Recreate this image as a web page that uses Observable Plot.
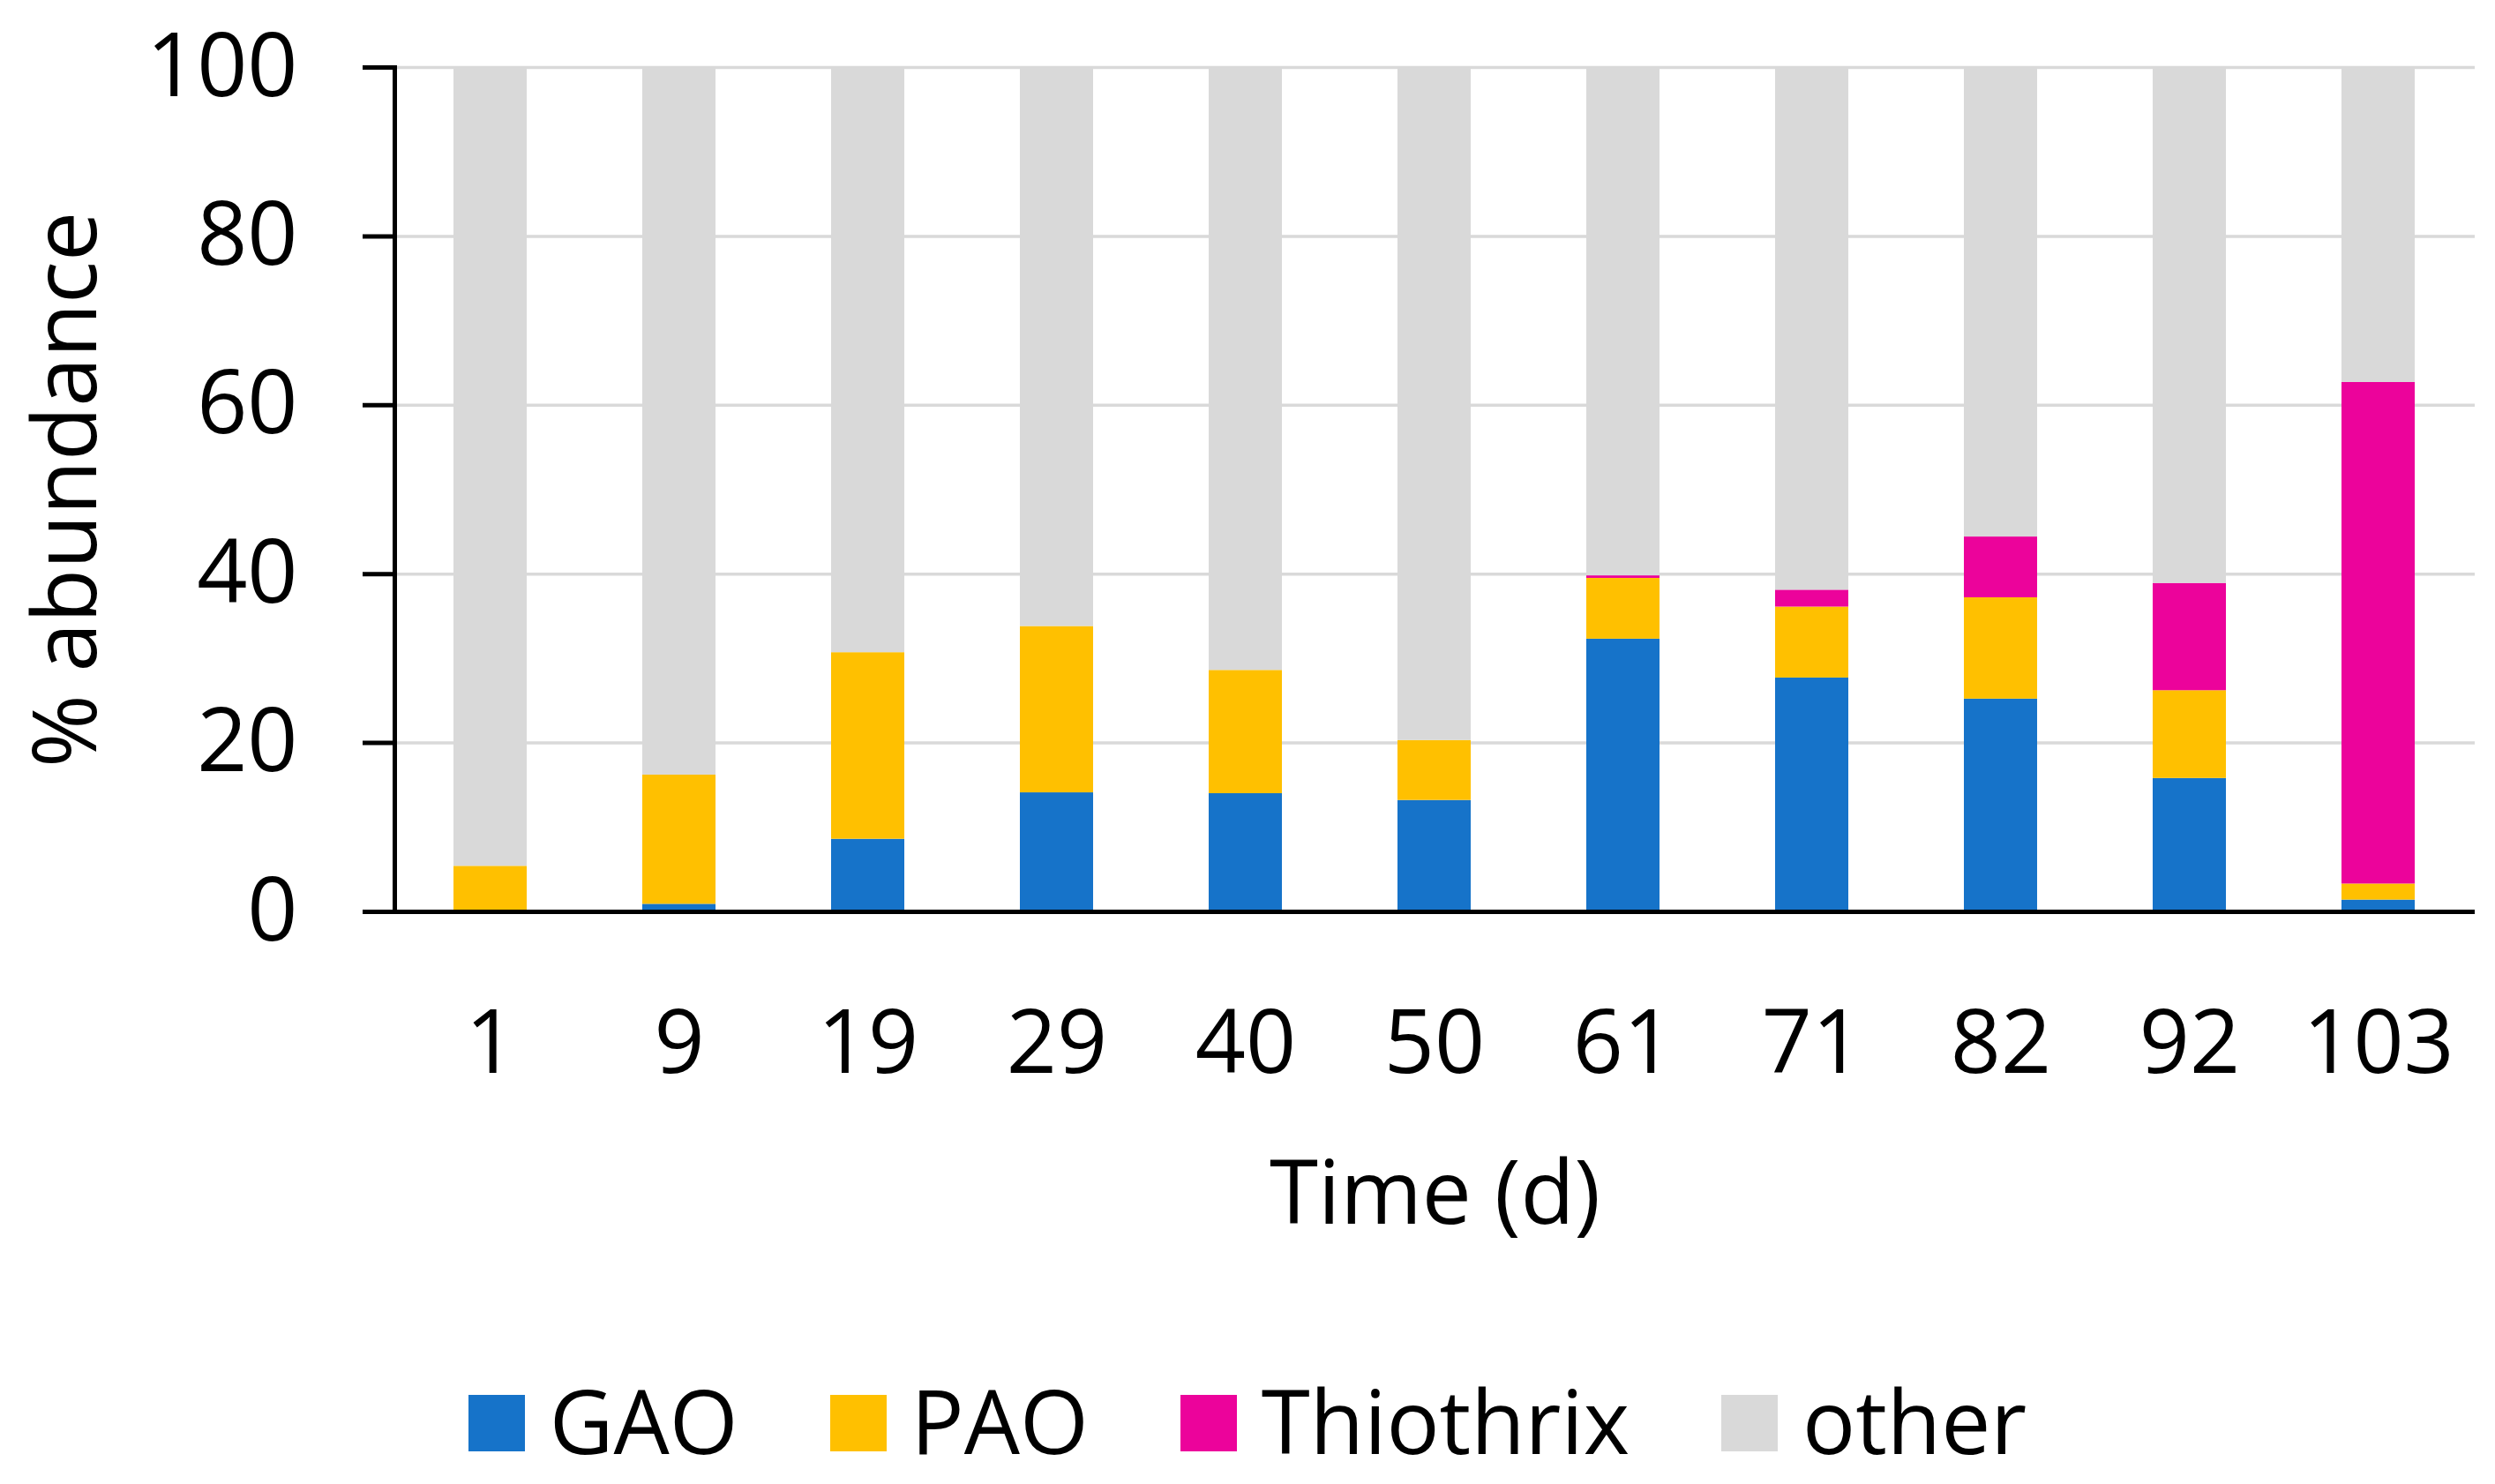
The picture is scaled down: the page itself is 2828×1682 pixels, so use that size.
<!DOCTYPE html>
<html>
<head>
<meta charset="utf-8">
<script src="https://cdn.jsdelivr.net/npm/d3@7"></script>
<script src="https://cdn.jsdelivr.net/npm/@observablehq/plot@0.6"></script>
<style>
  html, body { margin: 0; padding: 0; background: #fff; }
  #wrap { width: 2828px; font-family: "Open Sans", sans-serif; color: #000; }
  #legend { display: flex; justify-content: center; align-items: center; height: 182px; box-sizing: border-box; padding-top: 36px; font-size: 100px; line-height: 100px; }
  .item { display: flex; align-items: center; margin: 0 52px; }
  .sw { width: 64px; height: 64px; margin-right: 28px; margin-top: 8px; }
</style>
</head>
<body>
<div id="wrap"></div>
<script>
const days = ["1", "9", "19", "29", "40", "50", "61", "71", "82", "92", "103"];
const seriesNames = ["GAO", "PAO", "Thiothrix", "other"];
const seriesColors = ["#1673c9", "#ffc000", "#ec039b", "#d9d9d9"];
const GAO = [0, 0.9, 8.6, 14.1, 14.0, 13.2, 32.3, 27.7, 25.2, 15.8, 1.4];
const PAO = [5.4, 15.3, 22.1, 19.7, 14.6, 7.1, 7.2, 8.4, 12.0, 10.4, 1.9];
const Thiothrix = [0, 0, 0, 0, 0, 0, 0.3, 2.0, 7.2, 12.7, 59.4];
const other = [94.6, 83.8, 69.3, 66.2, 71.4, 79.7, 60.2, 61.9, 55.6, 61.1, 37.3];
const yTicks = [0, 20, 40, 60, 80, 100];

const seriesValues = [GAO, PAO, Thiothrix, other];
const table = [];
days.forEach((d, i) => {
  seriesNames.forEach((s, j) => table.push({day: d, series: s, value: seriesValues[j][i]}));
});

const chart = Plot.plot({
  width: 2828,
  height: 1500,
  marginTop: 76,
  marginLeft: 447,
  marginRight: 23,
  marginBottom: 467,
  style: {fontFamily: "Open Sans", fontSize: "100px", color: "#000", background: "#fff"},
  x: {type: "band", domain: days, paddingInner: 0.61, paddingOuter: 0.305},
  y: {domain: [0, 100]},
  color: {domain: seriesNames, range: seriesColors},
  marks: [
    Plot.ruleY(yTicks, {stroke: "#d9d9d9", strokeWidth: 3.5}),
    Plot.barY(table, {x: "day", y: "value", fill: "series", order: seriesNames}),
    Plot.ruleY([0], {stroke: "#000", strokeWidth: 5}),
    Plot.frame({anchor: "left", stroke: "#000", strokeWidth: 5}),
    Plot.axisY({ticks: yTicks, tickSize: 36, tickPadding: 74, strokeWidth: 5, stroke: "#000", fill: "#000",
      fontSize: 100, label: "% abundance", labelAnchor: "center", labelArrow: "none", labelOffset: 410}),
    Plot.axisX({tickSize: 0, tickPadding: 111, fill: "#000", fontSize: 100,
      label: "Time (d)", labelAnchor: "center", labelArrow: "none", labelOffset: 353})
  ]
});

const wrap = document.getElementById("wrap");
wrap.appendChild(chart);

const legend = document.createElement("div");
legend.id = "legend";
seriesNames.forEach((s, j) => {
  const item = document.createElement("div");
  item.className = "item";
  const sw = document.createElement("div");
  sw.className = "sw";
  sw.style.background = seriesColors[j];
  const label = document.createElement("span");
  label.textContent = s;
  item.appendChild(sw);
  item.appendChild(label);
  legend.appendChild(item);
});
wrap.appendChild(legend);
</script>
</body>
</html>
